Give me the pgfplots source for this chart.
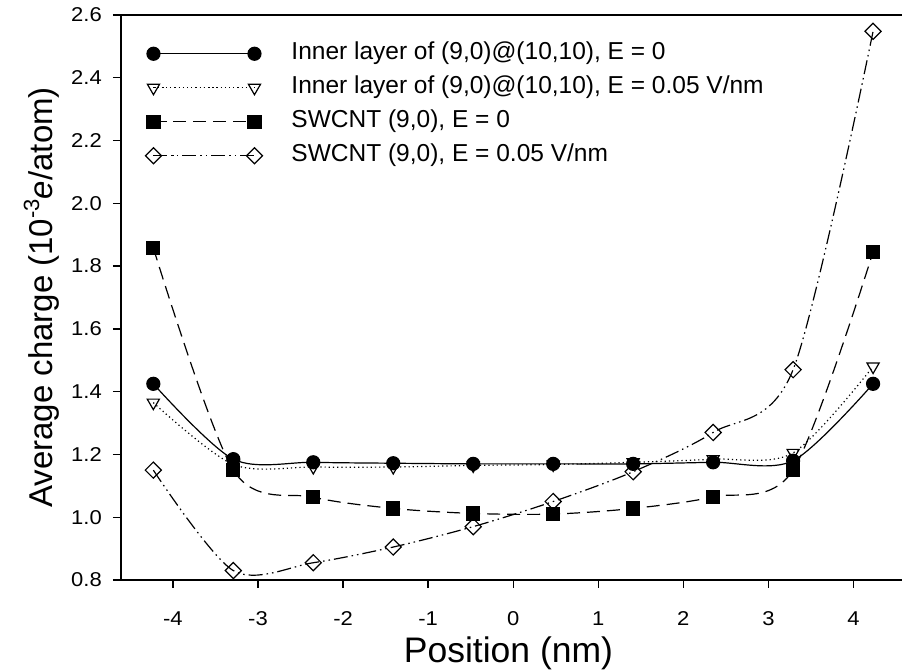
\documentclass[border=0pt]{standalone}
\usepackage{fontspec}
\setmainfont{Liberation Sans}
\newfontfamily\tickfont[FakeStretch=1.1]{Liberation Sans}
\usepackage{pgfplots}
\pgfplotsset{compat=1.18}
\pgfplotstableread{
x s1 s2 s3 s4
-4.23 1.425 1.365 1.858 1.150
-3.29 1.185 1.168 1.150 0.830
-2.35 1.175 1.160 1.064 0.855
-1.41 1.172 1.160 1.028 0.905
-0.47 1.170 1.165 1.012 0.970
0.47 1.170 1.168 1.010 1.050
1.41 1.170 1.175 1.028 1.145
2.35 1.175 1.185 1.065 1.270
3.29 1.180 1.205 1.150 1.470
4.23 1.425 1.480 1.845 2.548
}\data
\begin{document}
\begin{tikzpicture}
\begin{axis}[
  scale only axis, width=781pt, height=565pt,
  xmin=-4.61, xmax=4.57, ymin=0.8, ymax=2.6,
  axis x line*=box, axis y line*=left,
  xtick={-4,-3,-2,-1,0,1,2,3,4},
  ytick={0.8,1.0,1.2,1.4,1.6,1.8,2.0,2.2,2.4,2.6},
  xtick pos=bottom, ytick pos=left, tick align=outside,
  major tick length=8pt,
  axis line style={line width=1.4pt},
  every tick/.style={black, line width=1.4pt},
  /pgf/number format/assume math mode=true,
  yticklabel={\pgfmathprintnumber[fixed,fixed zerofill,precision=1]{\tick}},
  ticklabel style={font=\tickfont\fontsize{20}{24}\selectfont},
  xticklabel style={anchor=base, inner sep=0pt, yshift=-38pt},
  yticklabel style={anchor=east, inner sep=0pt, xshift=-11pt},
  xlabel={Position (nm)},
  ylabel={Average charge (10\raisebox{0.42em}{\fontsize{22}{22}\selectfont -3}\textit{e}/atom)},
  every axis x label/.style={at={(axis description cs:0.5,0)}, anchor=base, yshift=-83pt, xshift=-3pt, font=\fontsize{35.5}{40}\selectfont},
  every axis y label/.style={at={(axis description cs:0,0.5)}, anchor=base, xshift=-68pt, rotate=90, font=\fontsize{33}{40}\selectfont},
  legend style={draw=none, fill=none, at={(axis description cs:0.031,0.953)}, anchor=north west,
    font=\fontsize{24.5}{28}\selectfont, inner sep=0pt, row sep=10pt,
    nodes={inner sep=0pt, text height=18pt, text depth=6pt}},
  legend cell align=left,
  legend image code/.code={\draw[#1] plot coordinates {(0pt,0pt) (101pt,0pt)}; \path[draw=none] (0pt,0pt) (138pt,0pt);},
  every axis plot/.append style={line width=1.2pt, smooth, black},
]
\coordinate (bl) at (rel axis cs:0,0);
\coordinate (tr) at (rel axis cs:1,1);
\addplot[mark=*, mark size=6.5pt, mark options={solid, fill=black}] table[x=x,y=s1] {\data};
\addlegendentry{Inner layer of (9,0)@(10,10), E = 0}
\addplot[dash pattern=on 1.2pt off 3pt, mark=triangle, mark size=7pt, mark options={solid, rotate=180, fill=white, line width=1.2pt}] table[x=x,y=s2] {\data};
\addlegendentry{Inner layer of (9,0)@(10,10), E = 0.05 V/nm}
\addplot[dash pattern=on 13pt off 7pt, mark=square*, mark size=6.5pt, mark options={solid, fill=black}] table[x=x,y=s3] {\data};
\addlegendentry{SWCNT (9,0), E = 0}
\addplot[dash pattern=on 14pt off 4pt on 1.5pt off 4pt on 1.5pt off 4pt, mark=square, mark size=5.7pt, mark options={solid, rotate=45, fill=white, line width=1.2pt}] table[x=x,y=s4] {\data};
\addlegendentry{SWCNT (9,0), E = 0.05 V/nm}
\end{axis}
\pgfresetboundingbox
\path ([xshift=-121pt,yshift=-92pt]bl) rectangle ([yshift=15pt]tr);
\end{tikzpicture}
\end{document}
